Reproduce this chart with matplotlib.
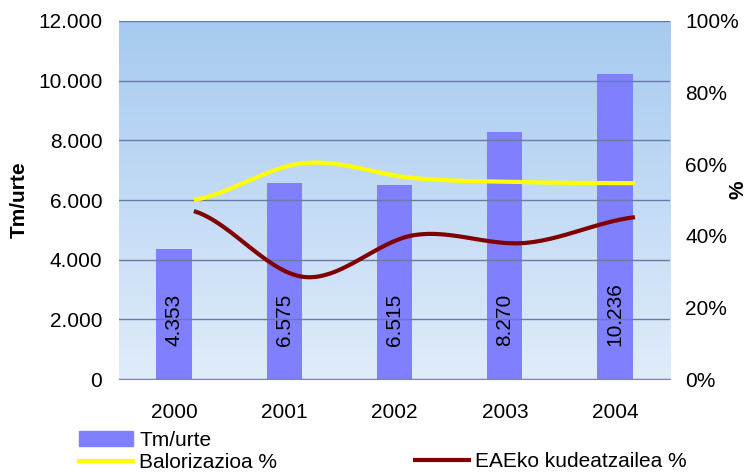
import numpy as np
import matplotlib.pyplot as plt
from matplotlib.patches import Patch
from matplotlib.lines import Line2D
from matplotlib.ticker import FuncFormatter

plt.rcParams['font.family'] = ['Liberation Sans', 'DejaVu Sans']

years = ['2000', '2001', '2002', '2003', '2004']
tm_urte = [4353, 6575, 6515, 8270, 10236]
balorizazioa = [0.50, 0.603, 0.561, 0.550, 0.547]
eae_kudeatzailea = [0.469, 0.285, 0.402, 0.380, 0.452]

bar_color = '#8080FF'
grid_color = '#6A7AA8'


def smooth(xs, ys, n=30):
    # catmull-rom spline through the points (excel style smoothed line)
    xs = np.asarray(xs, float)
    ys = np.asarray(ys, float)
    px = np.concatenate([[2 * xs[0] - xs[1]], xs, [2 * xs[-1] - xs[-2]]])
    py = np.concatenate([[ys[0]], ys, [ys[-1]]])
    out_x, out_y = [], []
    for i in range(1, len(px) - 2):
        t = np.linspace(0, 1, n, endpoint=False)
        for arr, out in ((px, out_x), (py, out_y)):
            p0, p1, p2, p3 = arr[i - 1], arr[i], arr[i + 1], arr[i + 2]
            out.extend(0.5 * ((2 * p1) + (-p0 + p2) * t
                              + (2 * p0 - 5 * p1 + 4 * p2 - p3) * t ** 2
                              + (-p0 + 3 * p1 - 3 * p2 + p3) * t ** 3))
    out_x.append(xs[-1])
    out_y.append(ys[-1])
    return np.array(out_x), np.array(out_y)


fig = plt.figure(figsize=(7.48, 4.74), dpi=100)
ax = fig.add_axes([0.159, 0.2004, 0.737, 0.7553])

# gradient background of the plot area
grad = np.linspace(0, 1, 256).reshape(-1, 1)
top = np.array([166, 202, 240]) / 255
bottom = np.array([224, 236, 250]) / 255
img = top + (bottom - top) * grad[..., None]
ax.imshow(img, extent=[0, 1, 0, 1], transform=ax.transAxes, aspect='auto', zorder=0)

x = np.arange(len(years))
ax.bar(x, tm_urte, width=0.32, color=bar_color, zorder=2)
for xi, v in zip(x, tm_urte):
    ax.annotate(f'{v:,}'.replace(',', '.'), (xi, 0), xytext=(0, 24), textcoords='offset points',
                rotation=90, ha='center', va='bottom', fontsize=15)

ax.set_xlim(-0.5, 4.5)
ax.set_ylim(0, 12000)
ax.set_yticks(range(0, 12001, 2000))
ax.yaxis.set_major_formatter(FuncFormatter(lambda v, p: f'{int(v):,}'.replace(',', '.')))
ax.set_xticks(x)
ax.set_xticklabels(years)
ax.grid(axis='y', color=grid_color, linewidth=1)
ax.set_axisbelow(False)
for s in ['left', 'right', 'top']:
    ax.spines[s].set_visible(False)
ax.spines['bottom'].set_color('#8088A8')
ax.tick_params(axis='both', length=0, labelsize=15)
ax.tick_params(axis='y', pad=12)
ax.tick_params(axis='x', pad=17)
ax.set_ylabel('Tm/urte', fontsize=15, fontweight='bold')
ax.yaxis.set_label_coords(-0.163, 0.5)

ax2 = ax.twinx()
ax2.set_ylim(0, 1)
ax2.set_yticks(np.arange(0, 1.01, 0.2))
ax2.yaxis.set_major_formatter(FuncFormatter(lambda v, p: f'{v * 100:.0f}%'))
ax2.tick_params(axis='y', length=0, labelsize=15, pad=11)
for s in ax2.spines.values():
    s.set_visible(False)
ax2.set_ylabel('%', fontsize=15, fontweight='bold', rotation=90)
ax2.yaxis.set_label_coords(1.105, 0.528)

# the percentage lines sit slightly right of the bar centres
lx = x + 0.18
sx, sy = smooth(lx, balorizazioa)
ax2.plot(sx, sy, color='#FFFF00', linewidth=3, solid_capstyle='butt')
sx, sy = smooth(lx, eae_kudeatzailea)
ax2.plot(sx, sy, color='#800000', linewidth=3, solid_capstyle='butt')

leg_kw = dict(frameon=False, fontsize=15, borderpad=0, borderaxespad=0,
              handlelength=2.6, handletextpad=0.3, labelspacing=0.15)
fig.legend(handles=[Patch(color=bar_color, label='Tm/urte'),
                    Line2D([], [], color='#FFFF00', lw=3, label='Balorizazioa %')],
           loc='upper left', bbox_to_anchor=(79 / 748, 1 - 431 / 474), **leg_kw)
fig.legend(handles=[Line2D([], [], color='#800000', lw=3, label='EAEko kudeatzailea %')],
           loc='upper left', bbox_to_anchor=(415 / 748, 1 - 452 / 474), **leg_kw)

fig.savefig('out.png', dpi=100)
